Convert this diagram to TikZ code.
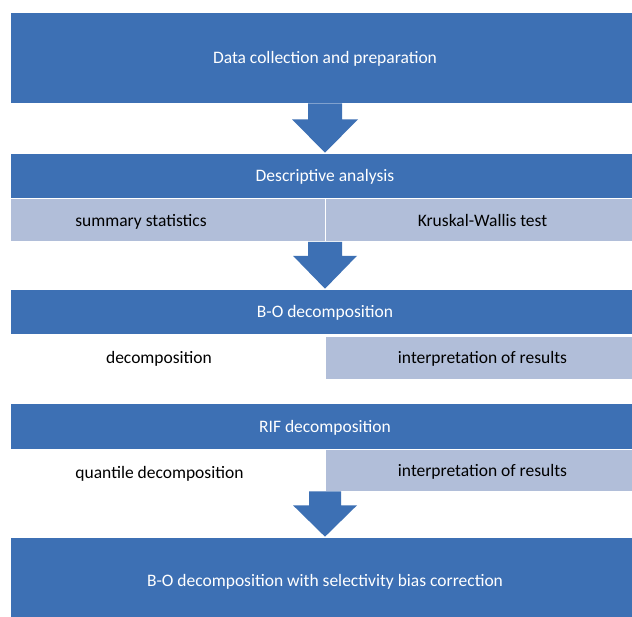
\documentclass[tikz,border=0pt]{standalone}
\usepackage{fontspec}
\setmainfont{Carlito}
\usetikzlibrary{positioning}
\usetikzlibrary{calc}
\definecolor{mblue}{RGB}{61, 112, 180}
\definecolor{mlight}{RGB}{177, 190, 217}
\tikzset{txt/.style = {font = \fontsize{17.5}{21}\selectfont, inner sep = 0, text height = 13pt, text depth = 0pt}}
\tikzset{stage/.style = {txt, fill = mblue, draw = white, line width = 0.6, text = white, minimum width = 630pt, minimum height = 45pt}}
\tikzset{cell/.style = {txt, fill = mlight, draw = white, line width = 0.6, minimum width = 315pt, minimum height = 43pt}}
\tikzset{blockarrow/.style = {fill = mblue}}

\begin{document}
\begin{tikzpicture}[x = 1pt, y = -1pt]
      \clip (0, 0) rectangle (632, 617);
      \fill [white] (0, 0) rectangle (632, 617);

      \node [stage, minimum height = 91pt] (collect) at (325, 57.5) {Data collection and preparation};

      \node [stage] (descr) at (325, 175.5) {Descriptive analysis};
      \node [cell] (summ) at (167.5, 220) {};
      \node [txt] (summtxt) at (141, 220) {summary statistics};
      \node [cell] (kw) at (482.5, 220) {Kruskal-Wallis test};

      \node [stage] (bo) at (325, 311.5) {B-O decomposition};
      \node [txt] (bodec) at (159, 357) {decomposition};
      \node [cell] (bointerp) at (482.5, 357.5) {interpretation of results};

      \node [stage, minimum height = 46pt] (rif) at (325, 426) {RIF decomposition};
      \node [txt] (rifquant) at (159.5, 472) {quantile decomposition};
      \node [cell, minimum height = 42pt] (rifinterp) at (482.5, 470) {interpretation of results};

      \node [stage, minimum height = 86pt] (final) at (325, 580) {B-O decomposition with selectivity bias correction};

      % block arrows
      \coordinate (a1) at (collect.south);
      \fill [blockarrow] ($(a1) + (-17, 0)$) -- ($(a1) + (-17, 16)$) -- ($(a1) + (-33, 16)$) -- (descr.north)
            -- ($(a1) + (33, 16)$) -- ($(a1) + (17, 16)$) -- ($(a1) + (17, 0)$) -- cycle;

      \coordinate (a2) at (bo.north |- summ.south);
      \fill [blockarrow] ($(a2) + (-17, 0)$) -- ($(a2) + (-17, 14)$) -- ($(a2) + (-32, 14)$) -- (bo.north)
            -- ($(a2) + (32, 14)$) -- ($(a2) + (17, 14)$) -- ($(a2) + (17, 0)$) -- cycle;

      \coordinate (a3) at (final.north |- rifinterp.south);
      \fill [blockarrow] ($(a3) + (-16, 0)$) -- ($(a3) + (-16, 14)$) -- ($(a3) + (-32, 14)$) -- (final.north)
            -- ($(a3) + (32, 14)$) -- ($(a3) + (16, 14)$) -- ($(a3) + (16, 0)$) -- cycle;
    \end{tikzpicture}
\end{document}
